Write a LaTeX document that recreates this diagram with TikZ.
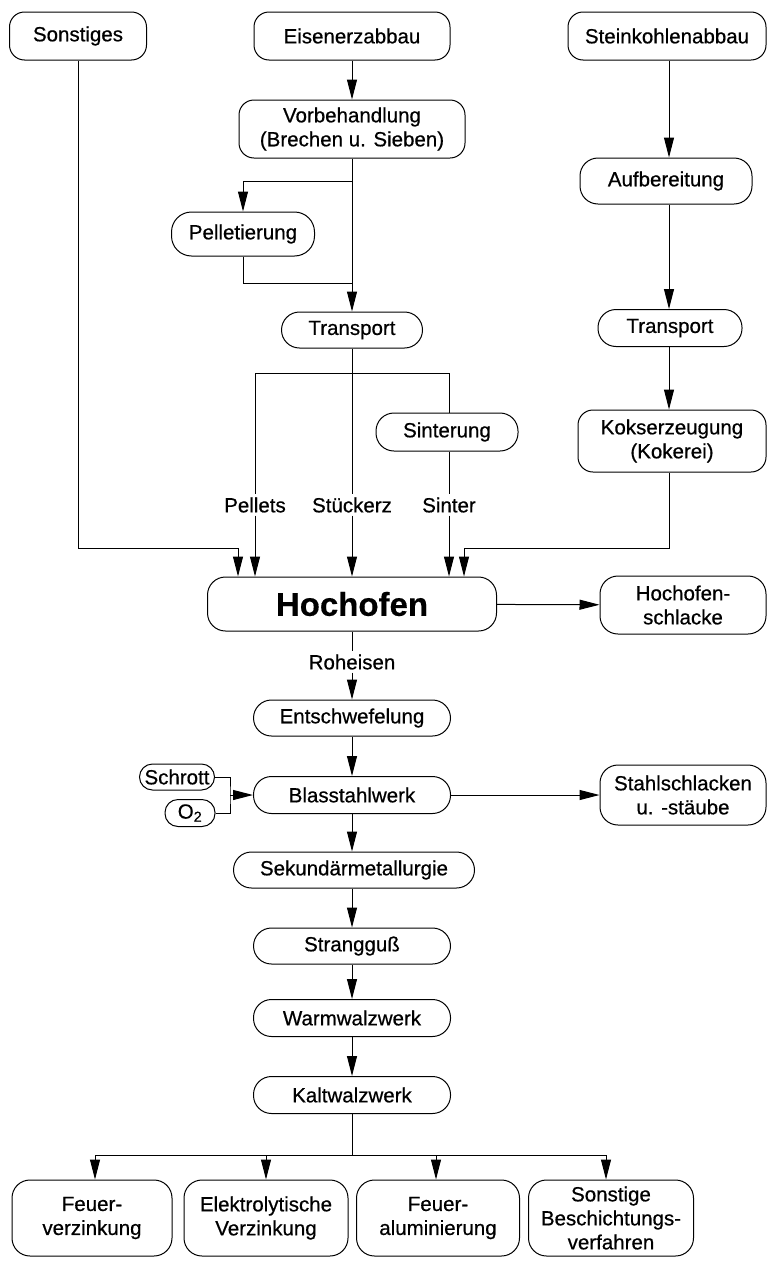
\documentclass[tikz,border=0pt]{standalone}
\usepackage{fontspec}
\setmainfont{Liberation Sans}[FakeBold=0.4]
\newfontfamily\heavyfont{Liberation Sans}[FakeBold=0.6]
\usetikzlibrary{arrows.meta}
\newcommand{\boxfont}{\heavyfont\fontsize{20.5}{24}\selectfont}
\begin{document}
\begin{tikzpicture}[x=1pt,y=-1pt,
  box/.style={draw, line width=1pt, rounded corners=15pt, inner sep=0pt, align=center,
    font=\boxfont},
  lbl/.style={inner sep=3pt, font=\boxfont},
  ln/.style={line width=1pt},
  arr/.style={line width=1pt, -{Triangle[length=20pt,width=10pt]}}]
\useasboundingbox (0,0) rectangle (768,1261);

% top row
\node[box, minimum width=137pt, minimum height=48pt] (sonst) at (78,36) {Sonstiges};
\node[box, minimum width=196pt, minimum height=48pt] (eisen) at (352,36) {Eisenerzabbau};
\node[box, minimum width=198pt, minimum height=48pt] (stein) at (667,36) {Steinkohlenabbau};

% ore line
\node[box, minimum width=226pt, minimum height=58pt] (vorb) at (352,129) {Vorbehandlung\\(Brechen u. Sieben)};
\node[box, minimum width=143pt, minimum height=44pt, rounded corners=20pt] (pell) at (243,234) {Pelletierung};
\node[box, minimum width=141pt, minimum height=36pt, rounded corners=18pt] (trl) at (352,330) {Transport};
\node[box, minimum width=142pt, minimum height=38pt, rounded corners=18pt] (sint) at (447,432) {Sinterung};

% coal line
\node[box, minimum width=172pt, minimum height=46pt, rounded corners=18pt] (aufb) at (666,181) {Aufbereitung};
\node[box, minimum width=144pt, minimum height=37pt, rounded corners=18pt] (trr) at (670,328) {Transport};
\node[box, minimum width=188pt, minimum height=62pt] (koks) at (672,441) {Kokserzeugung\\(Kokerei)};

% blast furnace
\node[box, minimum width=289pt, minimum height=54pt, rounded corners=18pt,
  font=\fontsize{33}{38}\selectfont\bfseries] (hoch) at (352,604) {Hochofen};
\node[box, minimum width=166pt, minimum height=58pt, rounded corners=18pt] (hschl) at (683,605) {Hochofen-\\schlacke};

% feed labels
\node[lbl] (lpell) at (255,505) {Pellets};
\node[lbl] (lstue) at (352,505) {Stückerz};
\node[lbl] (lsint) at (449,505) {Sinter};
\node[lbl] (lroh) at (352,662) {Roheisen};

% steel line
\node[box, minimum width=197pt, minimum height=36pt, rounded corners=18pt] (entsch) at (352,718) {Entschwefelung};
\node[box, minimum width=197pt, minimum height=37pt, rounded corners=18pt] (blas) at (352,795) {Blasstahlwerk};
\node[box, minimum width=75pt, minimum height=26pt, rounded corners=13pt, inner sep=0pt] (schrott) at (177,777) {Schrott};
\node[box, minimum width=50pt, minimum height=27pt, rounded corners=13pt] (otwo) at (190,813) {O\textsubscript{2}};
\node[box, minimum width=166pt, minimum height=60pt, rounded corners=18pt] (sschl) at (683,795) {Stahlschlacken\\u. -stäube};
\node[box, minimum width=241pt, minimum height=36pt, rounded corners=18pt] (sek) at (354,870) {Sekundärmetallurgie};
\node[box, minimum width=197pt, minimum height=36pt, rounded corners=18pt] (strang) at (352,946) {Strangguß};
\node[box, minimum width=197pt, minimum height=37pt, rounded corners=18pt] (warm) at (352,1018) {Warmwalzwerk};
\node[box, minimum width=197pt, minimum height=37pt, rounded corners=18pt] (kalt) at (352,1095) {Kaltwalzwerk};

% coatings
\node[box, minimum width=160pt, minimum height=76pt, rounded corners=18pt] (b1) at (92,1218) {Feuer-\\verzinkung};
\node[box, minimum width=164pt, minimum height=76pt, rounded corners=18pt] (b2) at (266,1218) {Elektrolytische\\Verzinkung};
\node[box, minimum width=163pt, minimum height=76pt, rounded corners=18pt] (b3) at (438,1218) {Feuer-\\aluminierung};
\node[box, minimum width=165pt, minimum height=76pt, rounded corners=18pt] (b4) at (611,1218) {Sonstige\\Beschichtungs-\\verfahren};

% junction points
\coordinate (jv) at (352,181);
\coordinate (jp) at (352,283);
\coordinate (jt) at (352,373);
\coordinate (js) at (238,548);
\coordinate (jk) at (464,548);
\coordinate (jb) at (230,795);
\coordinate (jc) at (352,1155);
\coordinate (cx) at (669,0);

% ore connectors
\draw[arr] (eisen) -- (vorb);
\draw[arr] (vorb) -- (trl);
\draw[arr] (jv) -| (pell);
\draw[ln] (pell) |- (jp);
\draw[ln] (trl) -- (lstue);
\draw[arr] (lstue) -- (hoch.north -| lstue);
\draw[ln] (lpell.north |- jt) -- (lsint.north |- jt);
\draw[ln] (lpell.north |- jt) -- (lpell);
\draw[arr] (lpell) -- (hoch.north -| lpell);
\draw[ln] (lsint.north |- jt) -- (sint.north -| lsint);
\draw[ln] (sint.south -| lsint) -- (lsint);
\draw[arr] (lsint) -- (hoch.north -| lsint);

% other and coal connectors
\draw[ln] (sonst) |- (js);
\draw[arr] (js) -- (hoch.north -| js);
\draw[arr] (stein.south -| cx) -- (aufb.north -| cx);
\draw[arr] (aufb.south -| cx) -- (trr.north -| cx);
\draw[arr] (trr.south -| cx) -- (koks.north -| cx);
\draw[ln] (koks.south -| cx) |- (jk);
\draw[arr] (jk) -- (hoch.north -| jk);
\draw[arr] (hoch) -- (hschl);

% steel connectors
\draw[ln] (hoch) -- (lroh);
\draw[arr] (lroh) -- (entsch);
\draw[arr] (entsch) -- (blas);
\draw[ln] (schrott.east) -| (jb) |- (otwo.east);
\draw[arr] (jb) -- (blas);
\draw[arr] (blas) -- (sschl);
\draw[arr] (blas) -- (sek.north -| blas);
\draw[arr] (sek.south -| blas) -- (strang);
\draw[arr] (strang) -- (warm);
\draw[arr] (warm) -- (kalt);
\draw[ln] (kalt) -- (jc);
\draw[ln] (jc -| 95,0) -- (jc -| 606,0);
\draw[arr] (jc -| 95,0) -- (b1.north -| 95,0);
\draw[arr] (jc -| b2) -- (b2);
\draw[arr] (jc -| 436,0) -- (b3.north -| 436,0);
\draw[arr] (jc -| 606,0) -- (b4.north -| 606,0);
\end{tikzpicture}
\end{document}
